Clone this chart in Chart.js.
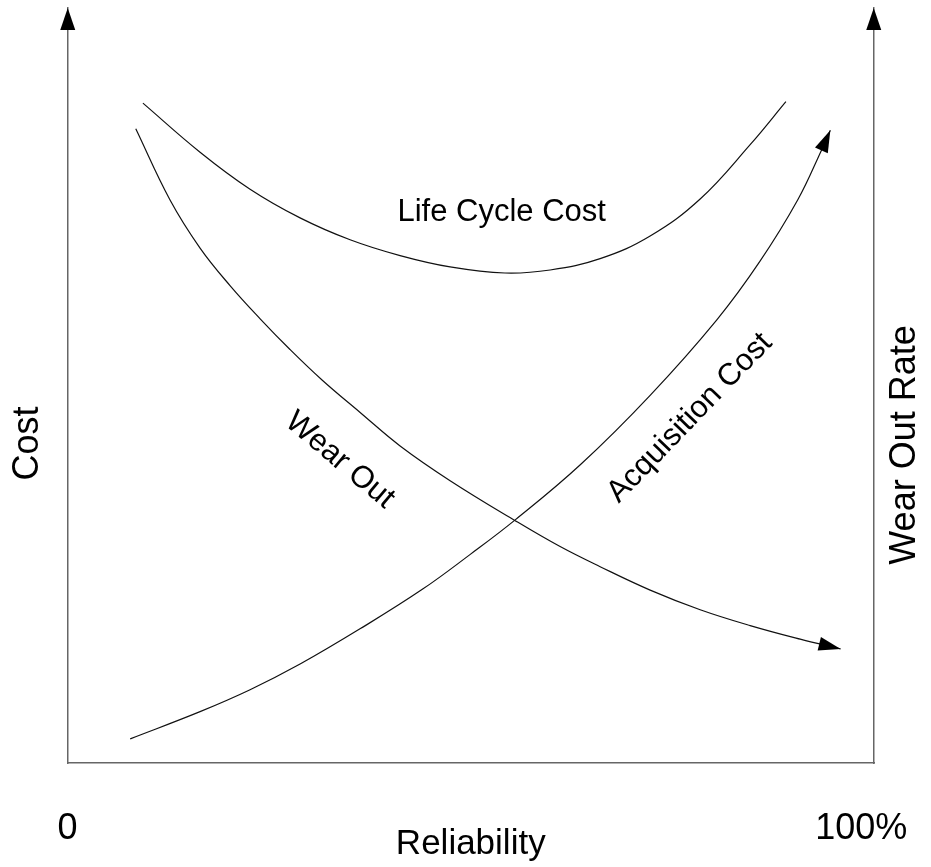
<!DOCTYPE html>
<html>
<head>
<meta charset="utf-8">
<script src="https://cdn.jsdelivr.net/npm/chart.js@4.4.1/dist/chart.umd.min.js"></script>
<style>
  html, body { margin: 0; padding: 0; background: #ffffff; }
  #wrap { width: 931px; height: 867px; }
</style>
</head>
<body>
<div id="wrap"><canvas id="chart" width="931" height="867"></canvas></div>
<script>
// Reliability axis ticks (percent)
const reliabilityTicks = [0, 100];
const reliabilityTickLabels = ['0', '100%'];

// Series names
const seriesNames = ['Life Cycle Cost', 'Wear Out', 'Acquisition Cost'];

// Life cycle cost vs reliability
const lifeCycleX = [9.5, 16.7, 23.0, 29.3, 35.6, 41.9, 48.2, 55.1, 60.8, 67.1, 73.4, 79.7, 86.0, 90.5];
const lifeCycleY = [87.4, 80.9, 76.0, 72.2, 69.3, 67.2, 65.7, 64.9, 65.3, 66.8, 69.8, 74.7, 81.9, 87.6];

// Wear out rate vs reliability
const wearOutX = [8.6, 12.9, 16.7, 20.5, 24.3, 28.0, 32.1, 36.9, 41.9, 48.2, 56.4, 62.0, 67.1, 73.4, 79.7, 86.0, 92.3, 97.4];
const wearOutY = [84.0, 74.6, 68.2, 63.2, 58.8, 54.8, 50.7, 46.4, 42.0, 37.4, 32.1, 28.7, 26.0, 22.9, 20.3, 18.2, 16.4, 15.1];

// Acquisition cost vs reliability
const acquisitionX = [7.9, 16.7, 23.0, 29.3, 36.9, 44.7, 50.7, 56.4, 64.6, 73.4, 81.8, 87.2, 92.0, 95.0, 96.1];
const acquisitionY = [3.2, 6.8, 9.7, 13.1, 17.8, 23.0, 27.6, 32.2, 39.5, 48.7, 58.7, 66.4, 74.6, 81.2, 83.8];

const FONT = '"Liberation Sans", Arial, Helvetica, sans-serif';
const INK = '#111111';
const AXIS = '#666666';

const toPoints = (xs, ys) => xs.map((x, i) => ({ x: x, y: ys[i] }));

function arrowHead(ctx, tipX, tipY, dirX, dirY, len, half) {
  const d = Math.hypot(dirX, dirY) || 1;
  const ux = dirX / d, uy = dirY / d;
  const bx = tipX - ux * len, by = tipY - uy * len;
  const nx = -uy * half, ny = ux * half;
  ctx.beginPath();
  ctx.moveTo(tipX, tipY);
  ctx.lineTo(bx + nx, by + ny);
  ctx.lineTo(bx - nx, by - ny);
  ctx.closePath();
  ctx.fill();
}

// Arrowheads on the axes and on the arrowed curves, plus in-plot text
const decorations = {
  id: 'decorations',
  afterDatasetsDraw(chart, args, opts) {
    const { ctx, chartArea: a } = chart;
    ctx.save();
    ctx.fillStyle = '#000';

    // vertical axis arrows
    arrowHead(ctx, a.left + 0.25, a.top, 0, -1, 22, 7.5);
    arrowHead(ctx, a.right - 0.25, a.top, 0, -1, 22, 7.5);

    // curve end arrows
    chart.data.datasets.forEach((ds, i) => {
      if (!ds.arrowEnd) return;
      const pts = chart.getDatasetMeta(i).data;
      const last = pts[pts.length - 1];
      const prev = pts[pts.length - 2];
      const cx = (last.cp1x !== undefined) ? last.cp1x : prev.x;
      const cy = (last.cp1y !== undefined) ? last.cp1y : prev.y;
      arrowHead(ctx, last.x, last.y, last.x - cx, last.y - cy, 22, 7);
    });

    // text labels
    ctx.fillStyle = '#000';
    ctx.textAlign = 'center';
    ctx.textBaseline = 'middle';
    opts.labels.forEach(l => {
      const sx = l.scaleX ? chart.scales[l.scaleX].getPixelForValue(l.x) : l.x;
      const sy = l.scaleY ? chart.scales[l.scaleY].getPixelForValue(l.y) : l.y;
      ctx.save();
      ctx.translate(sx, sy);
      ctx.rotate(l.angle * Math.PI / 180);
      ctx.font = l.size + 'px ' + FONT;
      ctx.fillText(l.text, 0, 0);
      ctx.restore();
    });
    ctx.restore();
  }
};

const lineStyle = {
  borderColor: INK,
  borderWidth: 1.2,
  pointRadius: 0,
  fill: false,
  tension: 0.4
};

const hiddenAxis = (position) => ({
  type: 'linear',
  position: position,
  min: 0,
  max: 100,
  grid: { display: false, drawTicks: false },
  border: { display: true, color: AXIS, width: 1.5 },
  ticks: { display: false },
  afterFit: s => { s.width = 0; }
});

new Chart(document.getElementById('chart'), {
  type: 'line',
  data: {
    datasets: [
      Object.assign({ label: seriesNames[0], data: toPoints(lifeCycleX, lifeCycleY), yAxisID: 'y' }, lineStyle),
      Object.assign({ label: seriesNames[1], data: toPoints(wearOutX, wearOutY), yAxisID: 'y2', arrowEnd: true }, lineStyle),
      Object.assign({ label: seriesNames[2], data: toPoints(acquisitionX, acquisitionY), yAxisID: 'y', arrowEnd: true }, lineStyle)
    ]
  },
  options: {
    responsive: false,
    animation: false,
    events: [],
    layout: { padding: { left: 67.5, right: 57, top: 8, bottom: 0 } },
    plugins: {
      legend: { display: false },
      tooltip: { enabled: false },
      decorations: {
        labels: [
          { text: seriesNames[0], x: 54.7, y: 72.9, scaleX: 'x', scaleY: 'y', angle: 0, size: 31 },
          { text: seriesNames[1], x: 34.3, y: 40.1, scaleX: 'x', scaleY: 'y', angle: 40, size: 31 },
          { text: seriesNames[2], x: 78.4, y: 45.7, scaleX: 'x', scaleY: 'y', angle: -46, size: 31 },
          { text: 'Cost', x: 28.5, y: 443.5, angle: -90, size: 36 },
          { text: 'Wear Out Rate', x: 905, y: 445, angle: -90, size: 36 }
        ]
      }
    },
    scales: {
      x: {
        type: 'linear',
        position: 'bottom',
        min: 0,
        max: 101.6,
        grid: { display: false, drawTicks: false },
        border: { display: true, color: AXIS, width: 1.5 },
        afterBuildTicks: s => { s.ticks = reliabilityTicks.map(v => ({ value: v })); },
        afterFit: s => { s.height = 104; s.paddingLeft = 0; s.paddingRight = 0; },
        ticks: {
          padding: 44,
          color: '#000',
          autoSkip: false,
          maxRotation: 0,
          font: { family: FONT, size: 36 },
          callback: (v, i) => reliabilityTickLabels[i]
        },
        title: {
          display: true,
          text: 'Reliability',
          color: '#000',
          font: { family: FONT, size: 35 },
          padding: { top: 0, bottom: 2 }
        }
      },
      y: hiddenAxis('left'),
      y2: hiddenAxis('right')
    }
  },
  plugins: [decorations]
});
</script>
</body>
</html>
